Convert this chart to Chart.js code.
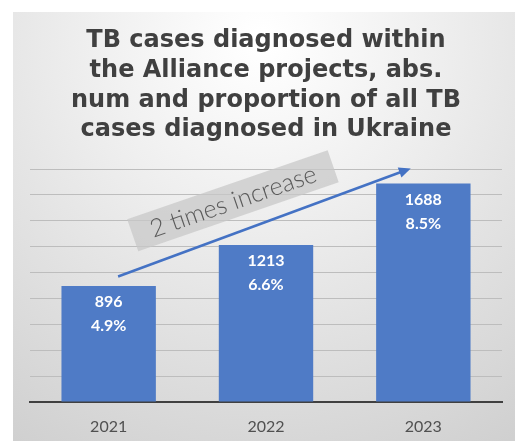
<!DOCTYPE html>
<html>
<head>
<meta charset="utf-8">
<script src="https://cdn.jsdelivr.net/npm/chart.js@4.4.1/dist/chart.umd.min.js"></script>
<style>
  html, body { margin: 0; padding: 0; background: #fff; }
  #wrap { width: 515px; height: 441px; position: relative; }
</style>
</head>
<body>
<div id="wrap"><canvas id="tbChart" width="515" height="441"></canvas></div>
<script>
// ---------- DATA ----------
const years = ['2021', '2022', '2023'];
const casesDiagnosed = [896, 1213, 1688];
const shareOfUkraine = ['4.9%', '6.6%', '8.5%'];
const titleLines = [
  'TB cases diagnosed within',
  'the Alliance projects, abs.',
  'num and proportion of all TB',
  'cases diagnosed in Ukraine'
];
const calloutText = '2 times increase';
// arrow + callout anchored in data units (category index, cases)
const arrowFrom = { x: 0.06, y: 970 };
const arrowTo = { x: 1.92, y: 1805 };
const calloutAt = { x: 0.79, y: 1555 };

const BLUE = '#4f7bc6';

// ---------- PLUGINS ----------
const panelBg = {
  id: 'panelBg',
  beforeDraw(chart) {
    const { ctx } = chart;
    ctx.save();
    const g = ctx.createRadialGradient(262, 40, 10, 262, 40, 470);
    g.addColorStop(0, '#ffffff');
    g.addColorStop(0.35, '#efefef');
    g.addColorStop(1, '#d0d0d0');
    ctx.fillStyle = g;
    ctx.fillRect(13, 12, 502, 429);
    ctx.restore();
  }
};

const barLabels = {
  id: 'barLabels',
  afterDatasetsDraw(chart) {
    const { ctx } = chart;
    const meta = chart.getDatasetMeta(0);
    ctx.save();
    ctx.fillStyle = '#ffffff';
    ctx.font = 'bold 16px Lato';
    ctx.textAlign = 'center';
    ctx.textBaseline = 'middle';
    meta.data.forEach((bar, i) => {
      ctx.fillText(String(casesDiagnosed[i]), bar.x, bar.y + 16);
      ctx.fillText(shareOfUkraine[i], bar.x, bar.y + 40);
    });
    ctx.restore();
  }
};

const trendArrow = {
  id: 'trendArrow',
  afterDraw(chart) {
    const { ctx, scales: { x, y } } = chart;
    const x0 = x.getPixelForValue(arrowFrom.x), y0 = y.getPixelForValue(arrowFrom.y);
    const x1 = x.getPixelForValue(arrowTo.x), y1 = y.getPixelForValue(arrowTo.y);

    // callout box with text (drawn first, arrow sits on top)
    const cx = x.getPixelForValue(calloutAt.x), cy = y.getPixelForValue(calloutAt.y);
    ctx.save();
    ctx.translate(cx, cy);
    ctx.rotate(-19 * Math.PI / 180);
    ctx.fillStyle = 'rgba(200,200,200,0.75)';
    ctx.fillRect(-106, -17, 212, 34);
    ctx.fillStyle = '#5a5a5a';
    ctx.font = '300 25px Lato';
    ctx.textAlign = 'center';
    ctx.textBaseline = 'middle';
    ctx.fillText(calloutText, 0, 1);
    ctx.restore();

    const ang = Math.atan2(y1 - y0, x1 - x0);
    const head = 13;
    ctx.save();
    ctx.strokeStyle = '#4472c4';
    ctx.fillStyle = '#4472c4';
    ctx.lineWidth = 2.5;
    ctx.beginPath();
    ctx.moveTo(x0, y0);
    ctx.lineTo(x1 - Math.cos(ang) * head * 0.8, y1 - Math.sin(ang) * head * 0.8);
    ctx.stroke();
    ctx.beginPath();
    ctx.moveTo(x1, y1);
    ctx.lineTo(x1 - head * Math.cos(ang - 0.42), y1 - head * Math.sin(ang - 0.42));
    ctx.lineTo(x1 - head * Math.cos(ang + 0.42), y1 - head * Math.sin(ang + 0.42));
    ctx.closePath();
    ctx.fill();
    ctx.restore();
  }
};

// ---------- CHART ----------
new Chart(document.getElementById('tbChart'), {
  type: 'bar',
  data: {
    labels: years,
    datasets: [{
      data: casesDiagnosed,
      backgroundColor: BLUE,
      borderWidth: 0,
      categoryPercentage: 0.6,
      barPercentage: 1.0
    }]
  },
  options: {
    responsive: false,
    animation: false,
    events: [],
    layout: { padding: { left: 13, right: 13, top: 12, bottom: 0 } },
    plugins: {
      legend: { display: false },
      tooltip: { enabled: false },
      title: {
        display: true,
        fullSize: false,
        text: titleLines,
        color: '#404040',
        font: { family: 'DejaVu Sans', weight: 'bold', size: 24, lineHeight: 1.24 },
        padding: { top: 14, bottom: 24 }
      }
    },
    scales: {
      x: {
        afterFit(scale) { scale.height = 39; },
        grid: { display: false, drawTicks: false },
        border: { display: true, color: '#404040', width: 2 },
        ticks: { color: '#505050', font: { family: 'Lato', size: 16 }, padding: 15 }
      },
      y: {
        min: 0,
        max: 1800,
        afterFit(scale) { scale.width = 17; },
        grid: { color: '#bdbdbd', lineWidth: 1, drawTicks: false },
        border: { display: false },
        ticks: { display: false, stepSize: 200 }
      }
    }
  },
  plugins: [panelBg, barLabels, trendArrow]
});
</script>
</body>
</html>
